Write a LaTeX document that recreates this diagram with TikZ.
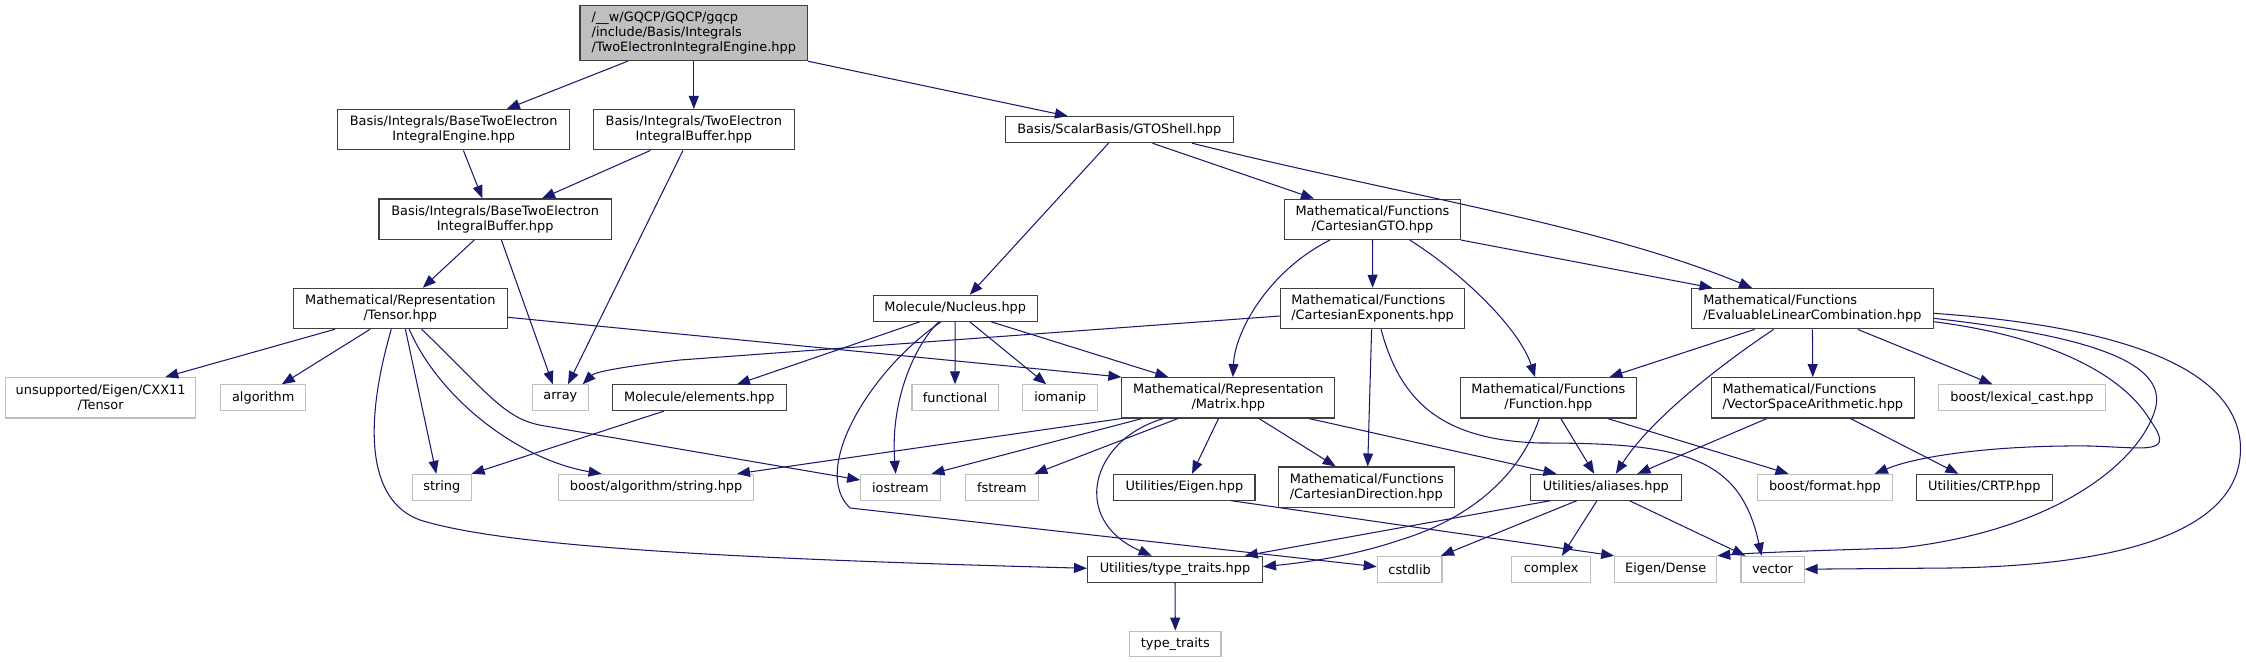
\documentclass[tikz,border=0pt]{standalone}
\usepackage{fontspec}
\setmainfont{DejaVu Sans}
\usetikzlibrary{arrows.meta}
\definecolor{greyA}{HTML}{404040}
\definecolor{greyB}{HTML}{BFBFBF}
\definecolor{midblue}{HTML}{191970}
\tikzset{
  box/.style={draw=greyA, line width=1.1pt, fill=white, inner sep=0pt, text=black,
    font=\fontsize{12.9pt}{15pt}\selectfont},
  doc/.style={box},
  ext/.style={box, draw=greyB},
  topnode/.style={box, fill=greyB},
  one/.style={minimum height=25.7pt},
  two/.style={minimum height=40.4pt},
  edge/.style={draw=midblue, line width=1.05pt, -{Triangle[length=13pt,width=10pt]}},
}
\begin{document}
\begin{tikzpicture}[x=1pt,y=-1pt]
\useasboundingbox (0,0) rectangle (2246,663);
% nodes
\node[topnode, minimum width=227.6pt, minimum height=55pt, align=left] (main) at (693.8,33.2) {/\_\_w/GQCP/GQCP/gqcp\\/include/Basis/Integrals\\/TwoElectronIntegralEngine.hpp};
\node[doc, two, minimum width=231.9pt, align=center] (bteie) at (453.7,129.7) {Basis/Integrals/BaseTwoElectron\\IntegralEngine.hpp};
\node[doc, two, minimum width=200.5pt, align=center] (teib) at (693.8,129.7) {Basis/Integrals/TwoElectron\\IntegralBuffer.hpp};
\node[doc, minimum height=26pt, minimum width=228.1pt] (gto) at (1119.3,129.7) {Basis/ScalarBasis/GTOShell.hpp};
\node[doc, two, minimum width=232.5pt, align=center] (bteib) at (495.2,219.2) {Basis/Integrals/BaseTwoElectron\\IntegralBuffer.hpp};
\node[doc, two, minimum width=176pt, align=center] (cgto) at (1372.5,219.3) {Mathematical/Functions\\/CartesianGTO.hpp};
\node[doc, two, minimum width=214.1pt, align=center] (tensor) at (400.3,308.5) {Mathematical/Representation\\/Tensor.hpp};
\node[doc, minimum height=26pt, minimum width=164pt] (nucleus) at (955.2,308.3) {Molecule/Nucleus.hpp};
\node[doc, two, minimum width=183.7pt, align=left] (cexp) at (1372.6,308.5) {Mathematical/Functions\\/CartesianExponents.hpp};
\node[doc, two, minimum width=241.3pt, align=left] (elc) at (1812.4,308.7) {Mathematical/Functions\\/EvaluableLinearCombination.hpp};
\node[ext, two, minimum width=190.3pt, align=center] (unsup) at (100.6,397.8) {unsupported/Eigen/CXX11\\/Tensor};
\node[ext, one, minimum width=85.1pt] (algorithm) at (263.2,397.7) {algorithm};
\node[ext, one, minimum width=56.4pt] (array) at (560.4,397.7) {array};
\node[doc, one, minimum width=173.5pt] (elements) at (699.3,397.7) {Molecule/elements.hpp};
\node[ext, one, minimum width=86.1pt] (functional) at (955,397.7) {functional};
\node[ext, one, minimum width=74.6pt] (iomanip) at (1060.2,397.7) {iomanip};
\node[doc, two, minimum width=212.8pt, align=center] (matrix) at (1228.3,397.8) {Mathematical/Representation\\/Matrix.hpp};
\node[doc, two, minimum width=175.9pt, align=center] (function) at (1548.4,397.8) {Mathematical/Functions\\/Function.hpp};
\node[doc, two, minimum width=202.9pt, align=left] (vsa) at (1812.8,397.8) {Mathematical/Functions\\/VectorSpaceArithmetic.hpp};
\node[ext, one, minimum width=166.7pt] (lexical) at (2021.9,397.7) {boost/lexical\_cast.hpp};
\node[ext, one, minimum width=58.5pt] (string) at (441.8,487.2) {string};
\node[ext, one, minimum width=194.6pt] (bas) at (656.1,487.2) {boost/algorithm/string.hpp};
\node[ext, one, minimum width=79.4pt] (iostream) at (900.4,487.2) {iostream};
\node[ext, one, minimum width=72.7pt] (fstream) at (1001.9,487.2) {fstream};
\node[doc, one, minimum width=141.1pt] (ueigen) at (1184.4,487.2) {Utilities/Eigen.hpp};
\node[doc, two, minimum width=176pt, align=left] (cdir) at (1366.8,487.2) {Mathematical/Functions\\/CartesianDirection.hpp};
\node[doc, one, minimum width=150.5pt] (aliases) at (1605.9,487.2) {Utilities/aliases.hpp};
\node[ext, one, minimum width=134.4pt] (format) at (1824.9,487.2) {boost/format.hpp};
\node[doc, one, minimum width=136pt] (crtp) at (1984.3,487.2) {Utilities/CRTP.hpp};
\node[doc, one, minimum width=175pt] (uttraits) at (1175,569.2) {Utilities/type\_traits.hpp};
\node[ext, one, minimum width=64.7pt] (cstdlib) at (1409.6,569.2) {cstdlib};
\node[ext, one, minimum width=78.8pt] (complex) at (1551.1,569.2) {complex};
\node[ext, one, minimum width=102pt] (dense) at (1665.7,569.2) {Eigen/Dense};
\node[ext, one, minimum width=63.1pt] (vector) at (1772.5,569.2) {vector};
\node[ext, one, minimum width=91.3pt] (ttraits) at (1175.3,644) {type\_traits};
% edges
\draw[edge] ([xshift=-66.2pt]main.south) -- ([xshift=53.1pt]bteie.north);
\draw[edge] (main.south) -- (teib.north);
\draw[edge] (main.south east) -- ([xshift=-51.4pt]gto.north);
\draw[edge] ([xshift=9.7pt]bteie.south) -- ([xshift=-12.8pt]bteib.north);
\draw[edge] ([xshift=-43.4pt]teib.south) -- ([xshift=46.8pt]bteib.north);
\draw[edge] ([xshift=-10.8pt]teib.south) -- ([xshift=7.6pt]array.north);
\draw[edge] ([xshift=-20.9pt]bteib.south) -- ([xshift=22.5pt]tensor.north);
\draw[edge] ([xshift=6.2pt]bteib.south) -- ([xshift=-7.6pt]array.north);
\draw[edge] ([xshift=-65.3pt]tensor.south) -- ([xshift=64.7pt]unsup.north);
\draw[edge] ([xshift=-30.1pt]tensor.south) -- ([xshift=18.6pt]algorithm.north);
\draw[edge] ([xshift=5.1pt]tensor.south) -- ([xshift=-5.5pt]string.north);
\draw[edge] ([xshift=8.9pt]tensor.south) .. controls (440,400) and (520,460) .. ([xshift=-54.5pt]bas.north);
\draw[edge] ([xshift=21.4pt]tensor.south) .. controls (490,395) and (505,420) .. (545,426) -- ([yshift=7.2pt]iostream.west);
\draw[edge] ([yshift=-8.8pt]tensor.east) -- (matrix.north west);
\draw[edge] ([xshift=-9pt]tensor.south) .. controls (365,420) and (365,500) .. (420,520) .. controls (500,545) and (700,558) .. ([yshift=0.9pt]uttraits.west);
\draw[edge] ([xshift=-35.6pt]nucleus.south) -- ([xshift=37.7pt]elements.north);
\draw[edge] (nucleus.south) -- (functional.north);
\draw[edge] ([xshift=14.6pt]nucleus.south) -- ([xshift=-13.9pt]iomanip.north);
\draw[edge] ([xshift=36.1pt]nucleus.south) -- ([xshift=-60pt]matrix.north);
\draw[edge] ([xshift=-16.5pt]nucleus.south) .. controls (915,345) and (890,400) .. ([xshift=-4.7pt]iostream.north);
\draw[edge] ([xshift=-14.1pt]nucleus.south) .. controls (870,370) and (810,470) .. (850,508) -- ([yshift=2.5pt]cstdlib.west);
\draw[edge] ([xshift=-35.3pt]elements.south) -- (string.north east);
\draw[edge] (matrix.south west) -- ([xshift=80.9pt]bas.north);
\draw[edge] ([xshift=-86.3pt]matrix.south) -- ([xshift=31.1pt]iostream.north);
\draw[edge] ([xshift=-50.4pt]matrix.south) -- ([xshift=32.5pt]fstream.north);
\draw[edge] ([xshift=-64.8pt]matrix.south) .. controls (1090,440) and (1070,520) .. ([xshift=-23.4pt]uttraits.north);
\draw[edge] ([xshift=-9.8pt]matrix.south) -- ([xshift=7.6pt]ueigen.north);
\draw[edge] ([xshift=30.7pt]matrix.south) -- ([xshift=-31.1pt]cdir.north);
\draw[edge] ([xshift=80.7pt]matrix.south) -- ([xshift=-49.4pt]aliases.north);
\draw[edge] ([xshift=-10.8pt]gto.south) -- ([xshift=14.6pt]nucleus.north);
\draw[edge] ([xshift=33.2pt]gto.south) -- ([xshift=-58.5pt]cgto.north);
\draw[edge] ([xshift=72.9pt]gto.south) .. controls (1400,195) and (1600,225) .. ([xshift=-60.4pt]elc.north);
\draw[edge] ([xshift=-42.5pt]cgto.south) .. controls (1270,270) and (1235,330) .. ([xshift=4.6pt]matrix.north);
\draw[edge] (cgto.south) -- (cexp.north);
\draw[edge] ([xshift=37.3pt]cgto.south) .. controls (1465,275) and (1520,330) .. ([xshift=-13.4pt]function.north);
\draw[edge] (cgto.south east) -- ([xshift=-99.9pt]elc.north);
\draw[edge] ([yshift=-7.5pt]cexp.west) -- (680,360) .. controls (620,367) and (595,372) .. ([xshift=22.3pt]array.north);
\draw[edge] ([xshift=-1pt]cexp.south) -- ([xshift=0.9pt]cdir.north);
\draw[edge] ([xshift=8.4pt]cexp.south) .. controls (1400,400) and (1440,440) .. (1540,443) .. controls (1680,443) and (1740,455) .. ([xshift=-11pt]vector.north);
\draw[edge] ([xshift=-9.2pt]function.south) .. controls (1515,490) and (1450,525) .. (1400,540) .. controls (1350,557) and (1300,563) .. ([yshift=2.5pt]uttraits.east);
\draw[edge] ([xshift=12.4pt]function.south) -- ([xshift=-11.7pt]aliases.north);
\draw[edge] ([xshift=59.3pt]function.south) -- ([xshift=-36.4pt]format.north);
\draw[edge] ([xshift=-57.9pt]elc.south) -- ([xshift=61pt]function.north);
\draw[edge] ([xshift=-38.8pt]elc.south) .. controls (1720,365) and (1650,420) .. ([xshift=9.9pt]aliases.north);
\draw[edge] (elc.south) -- (vsa.north);
\draw[edge] ([xshift=45.4pt]elc.south) -- ([xshift=-29.5pt]lexical.north);
\draw[edge] ([yshift=-13pt]elc.east) .. controls (2040,335) and (2120,370) .. (2150,420) .. controls (2175,455) and (2150,448) .. (2090,446) .. controls (2000,445) and (1920,455) .. ([xshift=49.9pt]format.north);
\draw[edge] ([yshift=-9.6pt]elc.east) .. controls (2080,335) and (2170,360) .. (2155,410) .. controls (2140,460) and (2060,530) .. (1900,548) .. controls (1800,551) and (1750,553) .. (dense.north east);
\draw[edge] ([yshift=-4.6pt]elc.east) .. controls (2100,325) and (2230,360) .. (2240,440) .. controls (2248,520) and (2150,565) .. (1950,568) -- (vector.east);
\draw[edge] ([xshift=-45.9pt]vsa.south) -- ([xshift=31.5pt]aliases.north);
\draw[edge] ([xshift=37.7pt]vsa.south) -- ([xshift=-25.9pt]crtp.north);
\draw[edge] ([xshift=-54.9pt]aliases.south) -- ([xshift=69.8pt]uttraits.north);
\draw[edge] ([xshift=-28.9pt]aliases.south) -- ([xshift=31.4pt]cstdlib.north);
\draw[edge] ([xshift=-8.9pt]aliases.south) -- ([xshift=10.8pt]complex.north);
\draw[edge] ([xshift=23.4pt]aliases.south) -- ([xshift=-27.2pt]vector.north);
\draw[edge] ([xshift=46.1pt]ueigen.south) -- (dense.north west);
\draw[edge] (uttraits.south) -- (ttraits.north);
\end{tikzpicture}
\end{document}
